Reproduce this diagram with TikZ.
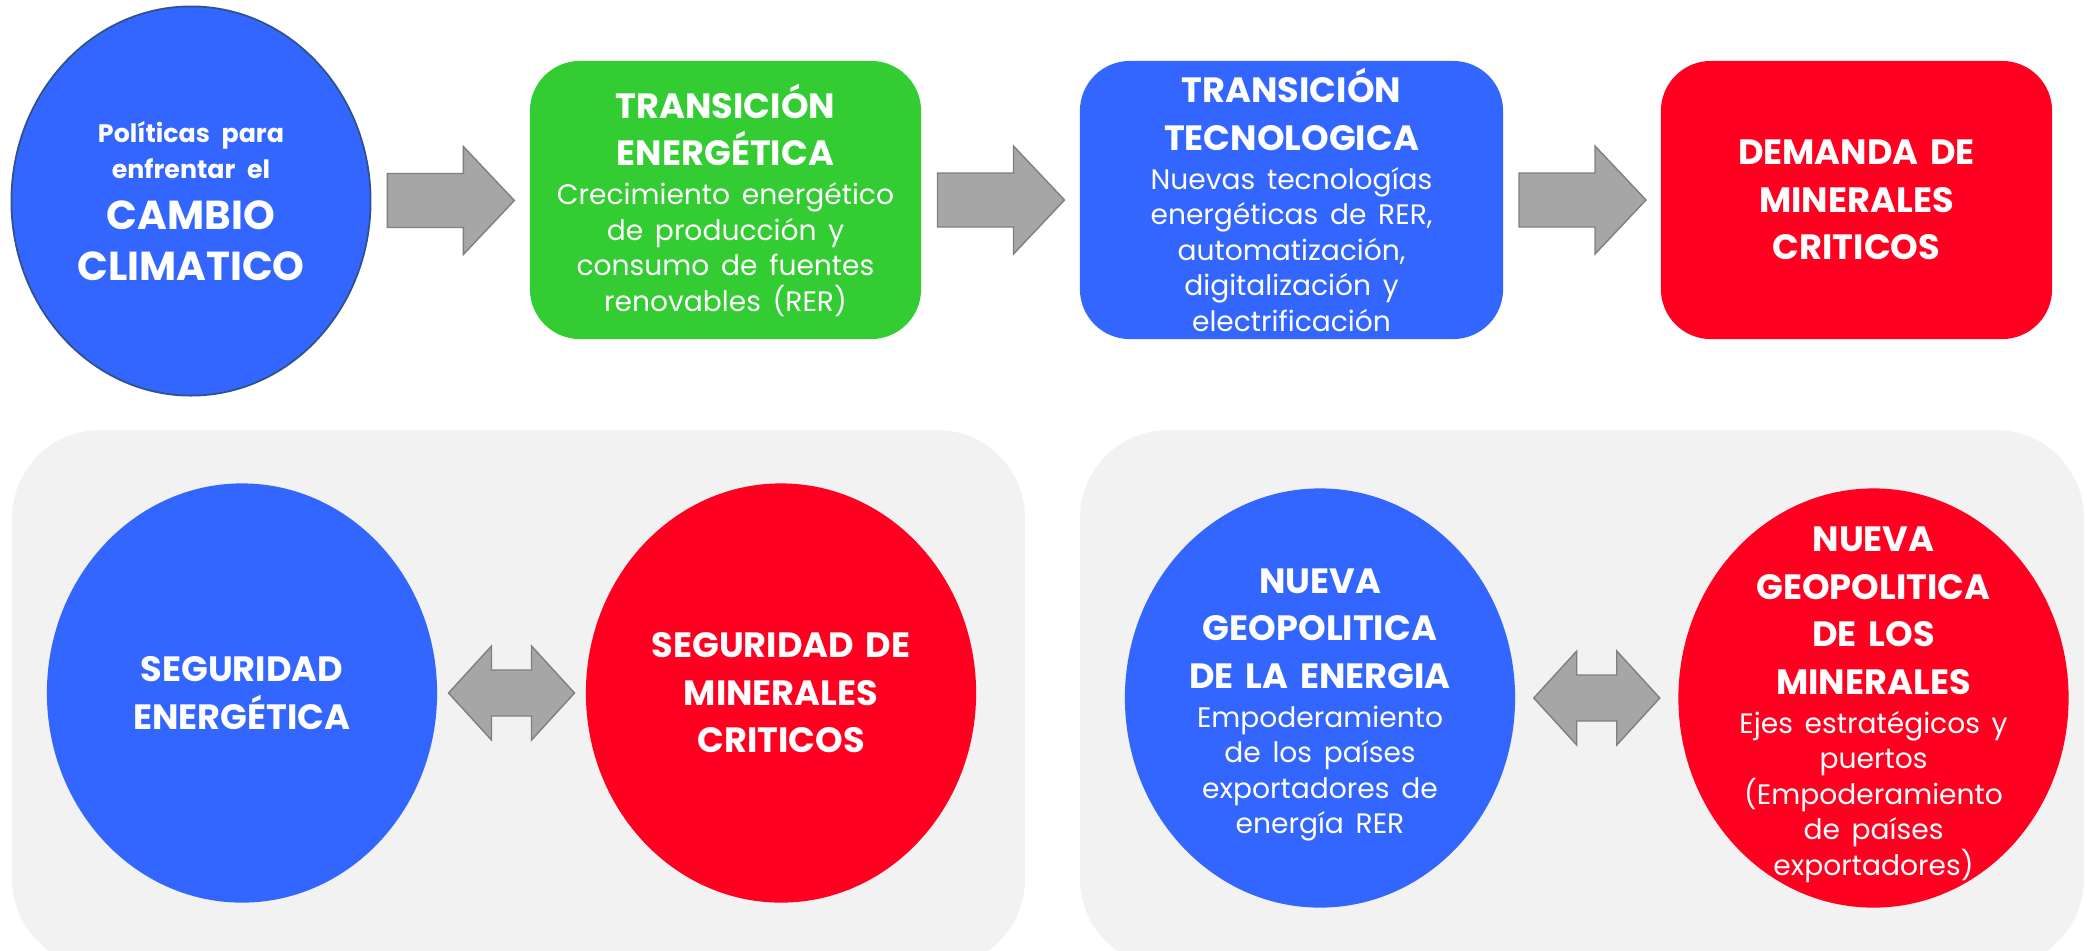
\documentclass[tikz,border=0pt]{standalone}
\usepackage{fontspec}
\setmainfont{Poppins}
\usepackage{tikz}
\usetikzlibrary{shapes,positioning,calc}
\definecolor{ccblue}{RGB}{51,102,255}
\definecolor{ccgreen}{RGB}{51,204,51}
\definecolor{ccred}{RGB}{255,0,32}
\definecolor{ccpanel}{RGB}{242,242,242}
\definecolor{ccarrow}{RGB}{166,166,166}
\definecolor{ccarrowline}{RGB}{127,127,127}
\definecolor{ccoutline}{RGB}{47,82,143}
\newcommand\ttlfont{\bfseries\fontsize{10}{13.5}\selectfont}
\newcommand\bdyfont{\mdseries\fontsize{8}{10.1}\selectfont}
\tikzstyle{stagebox} = [rectangle, rounded corners=0.5cm, minimum width=3.91cm, minimum height=2.78cm, inner sep=0pt, text=white, text width=3.6cm, align=center]
\tikzstyle{disc} = [ellipse, minimum width=3.9cm, minimum height=4.19cm, inner sep=0pt]
\tikzstyle{disctext} = [text=white, text width=3cm, align=center, inner sep=0pt]
\tikzstyle{panel} = [fill=ccpanel, rounded corners=0.88cm]
\tikzstyle{blockarrow} = [fill=ccarrow, draw=ccarrowline, line width=0.4pt]
\tikzset{
  pics/fwdarrow/.style={code={\draw[blockarrow] (-63,-27) -- (13,-27) -- (13,-54) -- (64,0) -- (13,54) -- (13,27) -- (-63,27) -- cycle;}},
  pics/duoarrow/.style={code={\draw[blockarrow] (-63,0) -- (-20,-47) -- (-20,-23) -- (20,-23) -- (20,-47) -- (63,0) -- (20,47) -- (20,23) -- (-20,23) -- (-20,47) -- cycle;}}
}
\begin{document}
\begin{tikzpicture}[x=0.01cm, y=-0.01cm]
\useasboundingbox (0,0) rectangle (2087,950);
\clip (0,0) rectangle (2087,950);

\fill[panel] (12,430) rectangle (1025,967);
\fill[panel] (1080,430) rectangle (2084,967);

\node[disc, minimum width=3.59cm, minimum height=3.89cm, fill=ccblue, draw=ccoutline, line width=0.5pt] (cc) at (191,201) {};
\node[disctext] (cc-text) at (cc.center) {{\bfseries\fontsize{7.2}{10.2}\selectfont Políticas para\\enfrentar el\par}{\bfseries\fontsize{11.5}{14.5}\selectfont CAMBIO\\CLIMATICO\par}};

\node[stagebox, fill=ccgreen] (te) at (725.5,200) {{\ttlfont TRANSICIÓN\\ENERGÉTICA\par}\vspace{1pt}{\bdyfont Crecimiento energético\\de producción y\\consumo de fuentes\\renovables (RER)\par}};
\node[stagebox, fill=ccblue, minimum width=4.23cm] (tt) at (1291.5,200) {{\ttlfont TRANSICIÓN\\TECNOLOGICA\par}\vspace{1pt}{\bdyfont Nuevas tecnologías\\energéticas de RER,\\automatización,\\digitalización y\\electrificación\par}};
\node[stagebox, fill=ccred] (dm) at (1856.5,200) {{\ttlfont DEMANDA DE\\MINERALES\\CRITICOS\par}};

\pic at ($(cc.east)!0.5!(te.west)$) {fwdarrow};
\pic at ($(te.east)!0.5!(tt.west)$) {fwdarrow};
\pic at ($(tt.east)!0.5!(dm.west)$) {fwdarrow};

\node[disc, fill=ccblue] (se) at (242,693) {};
\node[disctext] (se-text) at (se.center) {{\ttlfont SEGURIDAD\\ENERGÉTICA\par}};
\node[disc, fill=ccred] (sm) at (781,693) {};
\node[disctext] (sm-text) at (sm.center) {{\ttlfont SEGURIDAD DE\\MINERALES\\CRITICOS\par}};
\pic at ($(se.east)!0.5!(sm.west)$) {duoarrow};

\node[disc, fill=ccblue] (ng) at (1320,698) {};
\node[disctext] (ng-text) at ($(ng.center)+(0,7)$) {{\ttlfont NUEVA\\GEOPOLITICA\\DE LA ENERGIA\par}\vspace{1pt}{\bdyfont Empoderamiento\\de los países\\exportadores de\\energía RER\par}};
\node[disc, fill=ccred] (nm) at (1873.5,698) {};
\node[disctext] (nm-text) at ($(nm.center)+(0,7)$) {{\ttlfont NUEVA\\GEOPOLITICA\\DE LOS\\MINERALES\par}\vspace{1pt}{\bdyfont Ejes estratégicos y\\puertos\\(Empoderamiento\\de países\\exportadores)\par}};
\pic at ($(ng.east)!0.5!(nm.west)$) {duoarrow};
\end{tikzpicture}
\end{document}
